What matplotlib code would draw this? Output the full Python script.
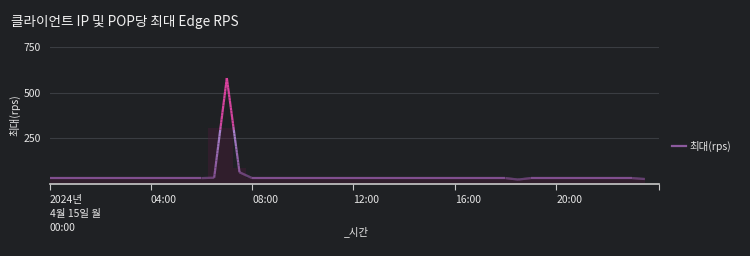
import numpy as np
import matplotlib.pyplot as plt
from matplotlib.collections import LineCollection
from matplotlib.colors import LinearSegmentedColormap
from matplotlib.lines import Line2D

plt.rcParams['font.family'] = ['Noto Sans CJK KR', 'DejaVu Sans']

# half-hour samples, 2024-04-15 00:00 .. 23:30 (hours)
hours = [h / 2 for h in range(48)]
max_rps = [30, 30, 30, 30, 30, 30, 30, 30, 30, 30, 30, 30,
           30, 30, 30, 30, 30, 30, 30, 30, 30, 30, 30, 30,
           30, 30, 30, 30, 30, 30, 30, 30, 30, 30, 30, 30,
           30, 30, 30, 30, 30, 30, 30, 30, 30, 30, 30, 30]
max_rps[13] = 32
max_rps[14] = 580
max_rps[15] = 62
max_rps[37] = 22
max_rps[47] = 25
# faint band drawn behind the line
band = list(max_rps)
band[13] = 305
band[14] = 305
band[15] = 85

xticks = [0, 4, 8, 12, 16, 20]
xtick_labels = ['2024년\n4월 15일 월\n00:00', '04:00', '08:00', '12:00', '16:00', '20:00']
yticks = [250, 500, 750]

bg = '#1f2124'
fig = plt.figure(figsize=(7.5, 2.56), dpi=100, facecolor=bg)
ax = fig.add_axes([0.066, 0.283, 0.813, 0.533], facecolor=bg)

ax.fill_between(hours, 0, band, step='mid', color='#4a1a3a', alpha=0.4, lw=0)

# gradient coloured line (purple low, magenta high)
cmap = LinearSegmentedColormap.from_list('rps', [(0, '#7a4a88'), (0.12, '#8c5a9e'),
                                                 (0.38, '#a882cc'), (0.42, '#d0449e'),
                                                 (1, '#e0409c')])
xs, ys = [], []
for i in range(len(hours) - 1):
    t = np.linspace(0, 1, 30)
    xs.extend(hours[i] + t * (hours[i + 1] - hours[i]))
    ys.extend(max_rps[i] + t * (max_rps[i + 1] - max_rps[i]))
xs, ys = np.array(xs), np.array(ys)
pts = np.column_stack([xs, ys]).reshape(-1, 1, 2)
segs = np.concatenate([pts[:-1], pts[1:]], axis=1)
lc = LineCollection(segs, cmap=cmap, norm=plt.Normalize(0, 750), linewidths=1.6)
lc.set_array((ys[:-1] + ys[1:]) / 2)
ax.add_collection(lc)

ax.set_xlim(0, 24.07)
ax.set_ylim(0, 750)
ax.set_yticks(yticks)
ax.set_yticklabels([str(v) for v in yticks])
ax.grid(axis='y', color='#3a3d42', lw=0.8)
ax.set_axisbelow(True)
ax.set_xticks(xticks + [24.07])
ax.set_xticklabels(xtick_labels + [''], ha='left', va='top', linespacing=1.5)
ax.tick_params(axis='x', colors='#c8c8c8', labelcolor='#e6e6e6', length=4, width=0.8,
               labelsize=7.5, pad=4)
ax.tick_params(axis='y', length=0, labelcolor='#e6e6e6', labelsize=7.5, pad=6)
for s in ['top', 'right', 'left']:
    ax.spines[s].set_visible(False)
ax.spines['bottom'].set_color('#c8c8c8')
ax.spines['bottom'].set_linewidth(1.2)

ax.set_ylabel('최대(rps)', color='#e6e6e6', fontsize=7.5, labelpad=8)
ax.yaxis.set_label_coords(-0.048, 0.5)
fig.text(0.475, 0.08, '_시간', color='#e6e6e6', fontsize=7.5, ha='center')
fig.text(0.015, 0.9, '클라이언트 IP 및 POP당 최대 Edge RPS', color='#f0f0f0', fontsize=9.8,
         fontweight='medium')

handle = Line2D([], [], color='#8c5a9e', lw=1.6)
leg = ax.legend([handle], ['최대(rps)'], loc='center left', bbox_to_anchor=(1.005, 0.275),
                frameon=False, fontsize=7.5, handlelength=1.4, handletextpad=0.3)
for t in leg.get_texts():
    t.set_color('#e6e6e6')

fig.savefig('out.png', dpi=100, facecolor=bg)
